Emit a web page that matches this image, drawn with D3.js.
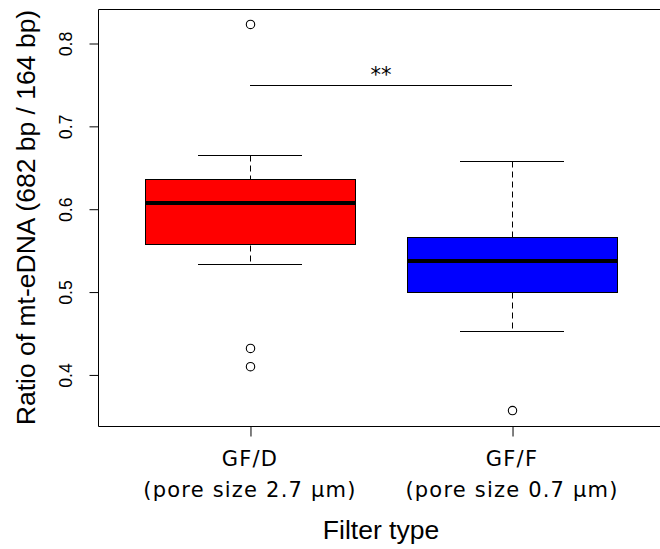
<!DOCTYPE html>
<html>
<head>
<meta charset="utf-8">
<script src="https://cdn.jsdelivr.net/npm/d3@7"></script>
<style>
  html, body { margin: 0; padding: 0; background: #fff; }
  svg { display: block; }
</style>
</head>
<body>
<script>
// ---- data ----
const categoryNames = ["GF/D", "GF/F"];
const categoryPore = ["(pore size 2.7 µm)", "(pore size 0.7 µm)"];
const boxFill = ["#FF0000", "#0000FF"];
const lowerWhisker = [0.534, 0.453];
const q1 = [0.557, 0.500];
const median = [0.608, 0.537];
const q3 = [0.636, 0.566];
const upperWhisker = [0.666, 0.658];
const outliers = [[0.823, 0.432, 0.410], [0.357]];
const yTicks = [0.4, 0.5, 0.6, 0.7, 0.8];
const sigValue = 0.75;
const sigLabel = "**";
const yTitle = "Ratio of mt-eDNA (682 bp / 164 bp)";
const xTitle = "Filter type";

// ---- layout ----
const W = 660, H = 549;
const plot = { left: 98, right: 664, top: 9, bottom: 426 };

const svg = d3.select("body").append("svg")
  .attr("width", W).attr("height", H);
svg.append("rect").attr("width", W).attr("height", H).attr("fill", "#fff");

// y domain like R: data range extended by 4%
const allVals = lowerWhisker.concat(upperWhisker, outliers.flat());
const lo = d3.min(allVals), hi = d3.max(allVals);
const pad = (hi - lo) * 0.04;
const y = d3.scaleLinear().domain([lo - pad, hi + pad]).range([plot.bottom, plot.top]);
const n = categoryNames.length;
const xPad = n * 0.04;
const x = d3.scaleLinear().domain([0.5 - xPad, n + 0.5 + xPad]).range([plot.left, plot.right]);

const px = v => Math.round(v) + 0.5;   // crisp 1px lines
const idx = d3.range(n);
const boxHalf = 0.4, capHalf = 0.2;

const g = svg.append("g");

// whiskers (dashed) and caps
idx.forEach(i => {
  const cx = px(x(i + 1));
  g.append("line").attr("x1", cx).attr("x2", cx)
    .attr("y1", px(y(upperWhisker[i]))).attr("y2", px(y(q3[i])))
    .attr("stroke", "#000").attr("stroke-width", 1).attr("stroke-dasharray", "6,4");
  g.append("line").attr("x1", cx).attr("x2", cx)
    .attr("y1", px(y(q1[i]))).attr("y2", px(y(lowerWhisker[i])))
    .attr("stroke", "#000").attr("stroke-width", 1).attr("stroke-dasharray", "6,4");
  [upperWhisker[i], lowerWhisker[i]].forEach(v => {
    g.append("line").attr("x1", Math.round(x(i + 1 - capHalf))).attr("x2", Math.round(x(i + 1 + capHalf)))
      .attr("y1", px(y(v))).attr("y2", px(y(v)))
      .attr("stroke", "#000").attr("stroke-width", 1);
  });
});

// boxes
g.selectAll("rect.box").data(idx).join("rect")
  .attr("class", "box")
  .attr("x", i => px(x(i + 1 - boxHalf)))
  .attr("width", i => Math.round(x(i + 1 + boxHalf) - x(i + 1 - boxHalf)))
  .attr("y", i => px(y(q3[i])))
  .attr("height", i => Math.round(y(q1[i]) - y(q3[i])))
  .attr("fill", i => boxFill[i])
  .attr("stroke", "#000").attr("stroke-width", 1);

// medians
g.selectAll("line.med").data(idx).join("line")
  .attr("class", "med")
  .attr("x1", i => px(x(i + 1 - boxHalf))).attr("x2", i => px(x(i + 1 + boxHalf)))
  .attr("y1", i => Math.round(y(median[i]))).attr("y2", i => Math.round(y(median[i])))
  .attr("stroke", "#000").attr("stroke-width", 4);

// outliers
idx.forEach(i => {
  g.selectAll(null).data(outliers[i]).join("circle")
    .attr("cx", px(x(i + 1))).attr("cy", d => y(d)).attr("r", 4.2)
    .attr("fill", "none").attr("stroke", "#000").attr("stroke-width", 1.1);
});

// significance bar
g.append("line").attr("x1", Math.round(x(1))).attr("x2", Math.round(x(2)))
  .attr("y1", px(y(sigValue))).attr("y2", px(y(sigValue)))
  .attr("stroke", "#000").attr("stroke-width", 1);
g.append("text").attr("x", (x(1) + x(2)) / 2).attr("y", y(sigValue) - 3)
  .attr("text-anchor", "middle")
  .attr("font-family", "DejaVu Sans").attr("font-size", 21)
  .attr("fill", "#000")
  .text(sigLabel);

// plot frame (right side falls outside the picture)
svg.append("path")
  .attr("d", `M${plot.right + 10},${plot.top + 0.5}H${plot.left + 0.5}V${plot.bottom + 0.5}H${plot.right + 10}`)
  .attr("fill", "none").attr("stroke", "#000").attr("stroke-width", 1);

// y axis
const yAxis = d3.axisLeft(y).tickValues(yTicks).tickSize(9).tickPadding(0)
  .tickFormat(d3.format(".1f"));
const ya = svg.append("g").attr("transform", `translate(${plot.left + 0.5},0)`).call(yAxis);
ya.select(".domain").remove();
ya.selectAll(".tick line").attr("stroke", "#000");
ya.selectAll(".tick text")
  .attr("x", null).attr("dy", null)
  .attr("transform", "translate(-27,0) rotate(-90)")
  .attr("text-anchor", "middle")
  .attr("font-family", "Liberation Sans, Arial, sans-serif")
  .attr("font-size", 17.7)
  .attr("fill", "#000");

// x axis
const xAxis = d3.axisBottom(x).tickValues(idx.map(i => i + 1)).tickSize(10).tickFormat("");
const xa = svg.append("g").attr("transform", `translate(0.5,${plot.bottom + 0.5})`).call(xAxis);
xa.select(".domain").remove();
xa.selectAll(".tick line").attr("stroke", "#000");

idx.forEach(i => {
  svg.append("text").attr("x", x(i + 1)).attr("y", 466)
    .attr("text-anchor", "middle")
    .attr("font-family", "DejaVu Sans").attr("font-size", 21)
    .attr("letter-spacing", 1.2)
    .attr("fill", "#000")
    .text(categoryNames[i]);
  svg.append("text").attr("x", x(i + 1)).attr("y", 497)
    .attr("text-anchor", "middle")
    .attr("font-family", "DejaVu Sans").attr("font-size", 21)
    .attr("letter-spacing", 1.2)
    .attr("fill", "#000")
    .text(categoryPore[i]);
});

// axis titles
svg.append("text")
  .attr("transform", `translate(34.5,${(plot.top + plot.bottom) / 2}) rotate(-90)`)
  .attr("text-anchor", "middle")
  .attr("font-family", "Liberation Sans, Arial, sans-serif")
  .attr("font-size", 26.5)
  .attr("fill", "#000")
  .text(yTitle);
svg.append("text")
  .attr("x", (plot.left + plot.right) / 2).attr("y", 539)
  .attr("text-anchor", "middle")
  .attr("font-family", "Liberation Sans, Arial, sans-serif")
  .attr("font-size", 26.5)
  .attr("fill", "#000")
  .text(xTitle);
</script>
</body>
</html>
